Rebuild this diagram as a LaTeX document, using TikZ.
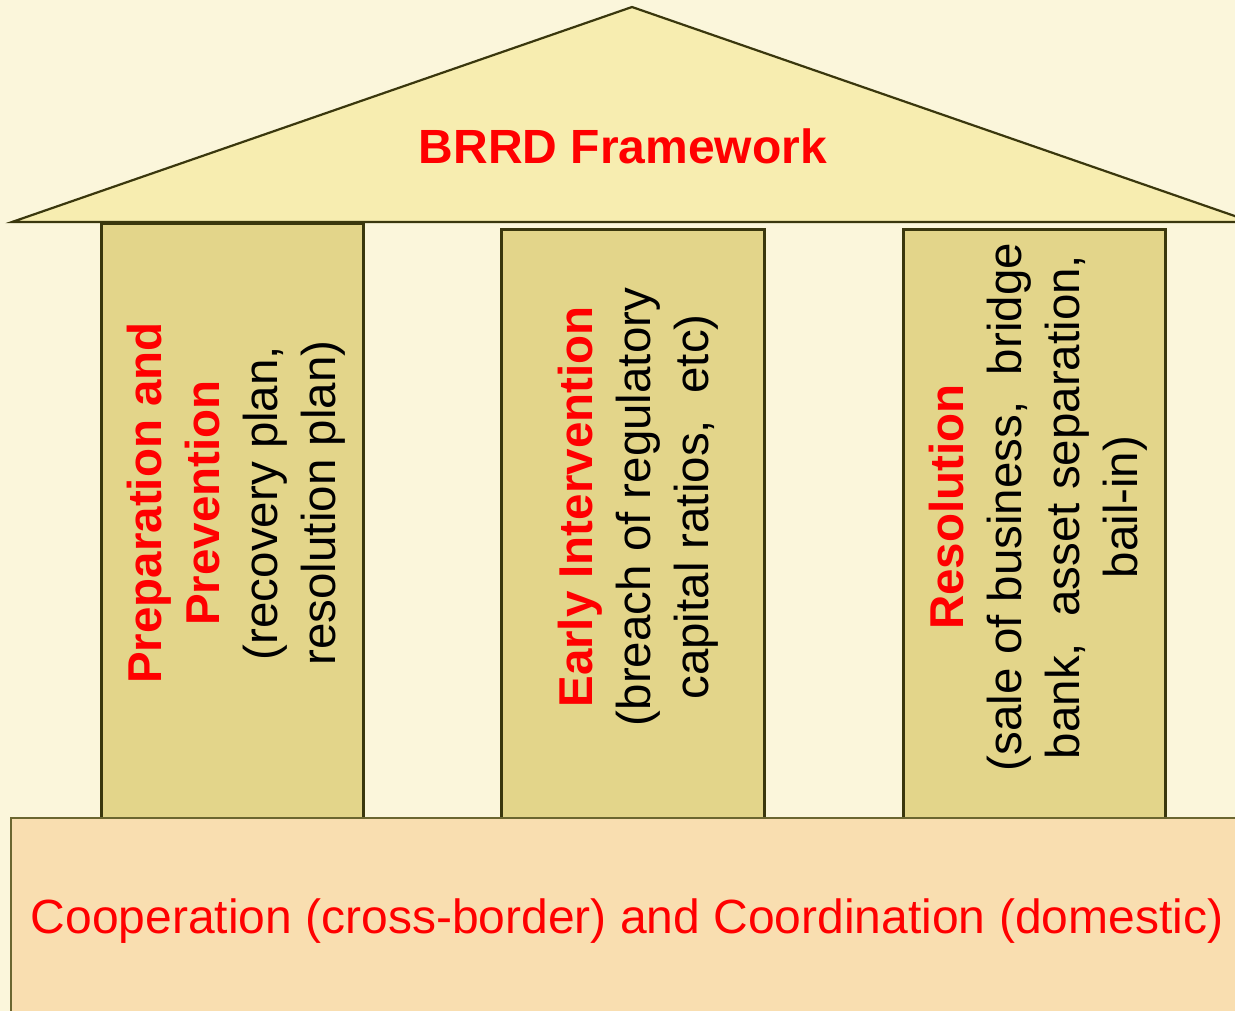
\documentclass[tikz,border=0pt]{standalone}
\usepackage{fontspec}
\setmainfont{Liberation Sans}
\definecolor{bgc}{HTML}{FBF6DB}
\definecolor{rooffill}{HTML}{F7EDB0}
\definecolor{pillarfill}{HTML}{E3D58A}
\definecolor{basefill}{HTML}{F9DEB0}
\definecolor{edgedark}{HTML}{3A370D}
\definecolor{edgebase}{HTML}{6B6630}
\definecolor{txtred}{HTML}{FF0000}
\tikzset{
  pillar/.style={draw=edgedark, line width=2.6pt, fill=pillarfill, inner sep=0pt, anchor=north west},
  roofshape/.style={draw=edgedark, line width=2.2pt, fill=rooffill, line join=miter},
  baseshape/.style={draw=edgebase, line width=2pt, fill=basefill},
  pillartext/.style={rotate=90, align=center, inner sep=0pt, font=\fontsize{47.5}{58}\selectfont},
  hd/.style={text=txtred, font=\fontsize{48}{58}\selectfont\bfseries, inner sep=0pt},
  basetext/.style={text=txtred, font=\fontsize{48}{58}\selectfont, inner sep=0pt}
}
\frenchspacing
\begin{document}
\begin{tikzpicture}[x=1pt,y=-1pt]
\useasboundingbox (0,0) rectangle (1235,1011);
\fill[bgc] (0,0) rectangle (1235,1011);
\begin{scope}
\clip (0,0) rectangle (1235,1011);
% pillars
\node[pillar, minimum width=262pt, minimum height=596pt] (p1) at (100,222) {};
\node[pillar, minimum width=263pt, minimum height=590pt] (p2) at (500,228) {};
\node[pillar, minimum width=262pt, minimum height=590pt] (p3) at (902,228) {};
% roof
\draw[roofshape] (12,222) -- (632,7) -- (1252,222) -- cycle;
\node[hd] (title) at (623,146) {BRRD Framework};
% base
\draw[baseshape] (11,818) rectangle (1260,1030);
\node[basetext] (basetxt) at (627,921) {Cooperation (cross-border) and Coordination (domestic)};
% pillar texts
\node[pillartext] (t1) at (236,503) {{\color{txtred}\bfseries Preparation and}\\{\color{txtred}\bfseries Prevention}\\(recovery plan,\\resolution plan)};
\node[pillartext] (t2) at (638,507) {{\color{txtred}\bfseries Early Intervention}\\(breach of regulatory\\capital ratios,\ \ etc)};
\node[pillartext] (t3) at (1038,507) {{\color{txtred}\bfseries Resolution}\\(sale of business,\ \ bridge\\bank,\ \ asset separation,\\bail-in)};
\end{scope}
\end{tikzpicture}
\end{document}
